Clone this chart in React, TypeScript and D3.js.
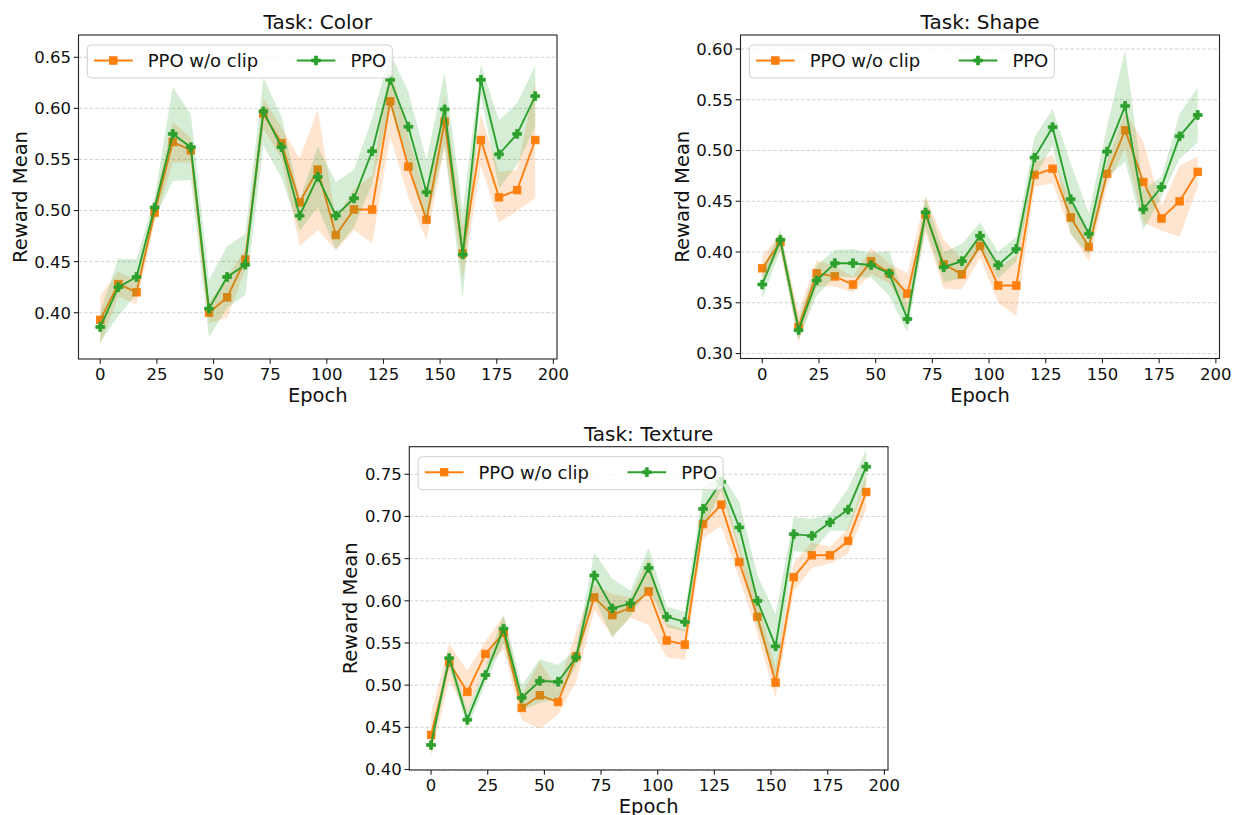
import React from 'react';
import * as d3 from 'd3';

const epochs = [0, 8, 16, 24, 32, 40, 48, 56, 64, 72, 80, 88, 96, 104, 112, 120, 128, 136, 144, 152, 160, 168, 176, 184, 192];
const xTicks = [0, 25, 50, 75, 100, 125, 150, 175, 200];

// Task: Color
const colorClipMean = [0.393, 0.428, 0.420, 0.498, 0.567, 0.559, 0.400, 0.415, 0.452, 0.595, 0.566, 0.508, 0.540, 0.476, 0.501, 0.501, 0.607, 0.543, 0.491, 0.587, 0.458, 0.569, 0.513, 0.520, 0.569];
const colorClipStd = [0.024, 0.012, 0.012, 0.010, 0.020, 0.012, 0.010, 0.020, 0.010, 0.015, 0.015, 0.043, 0.059, 0.015, 0.020, 0.033, 0.035, 0.030, 0.020, 0.025, 0.025, 0.025, 0.025, 0.020, 0.057];
const colorPpoMean = [0.386, 0.425, 0.435, 0.503, 0.575, 0.562, 0.404, 0.435, 0.447, 0.597, 0.562, 0.495, 0.533, 0.495, 0.512, 0.558, 0.628, 0.582, 0.518, 0.599, 0.457, 0.628, 0.555, 0.575, 0.612];
const colorPpoStd = [0.015, 0.028, 0.017, 0.010, 0.046, 0.032, 0.028, 0.030, 0.030, 0.033, 0.030, 0.015, 0.030, 0.033, 0.028, 0.032, 0.026, 0.034, 0.031, 0.036, 0.043, 0.015, 0.033, 0.030, 0.030];
const colorYTicks = [0.40, 0.45, 0.50, 0.55, 0.60, 0.65];

// Task: Shape
const shapeClipMean = [0.384, 0.410, 0.326, 0.379, 0.376, 0.368, 0.391, 0.379, 0.359, 0.437, 0.388, 0.378, 0.406, 0.367, 0.367, 0.476, 0.482, 0.434, 0.405, 0.477, 0.520, 0.469, 0.433, 0.450, 0.479];
const shapeClipStd = [0.012, 0.008, 0.015, 0.013, 0.010, 0.008, 0.013, 0.010, 0.020, 0.018, 0.024, 0.015, 0.012, 0.017, 0.030, 0.012, 0.014, 0.015, 0.014, 0.012, 0.018, 0.040, 0.012, 0.035, 0.015];
const shapePpoMean = [0.368, 0.412, 0.323, 0.372, 0.389, 0.389, 0.387, 0.379, 0.334, 0.439, 0.385, 0.391, 0.416, 0.387, 0.403, 0.493, 0.523, 0.452, 0.418, 0.499, 0.544, 0.442, 0.464, 0.514, 0.535];
const shapePpoStd = [0.014, 0.010, 0.010, 0.015, 0.013, 0.014, 0.012, 0.022, 0.013, 0.015, 0.015, 0.017, 0.013, 0.013, 0.012, 0.020, 0.018, 0.035, 0.020, 0.025, 0.055, 0.020, 0.010, 0.022, 0.027];
const shapeYTicks = [0.30, 0.35, 0.40, 0.45, 0.50, 0.55, 0.60];

// Task: Texture
const textureClipMean = [0.441, 0.527, 0.492, 0.537, 0.562, 0.473, 0.488, 0.480, 0.534, 0.604, 0.583, 0.592, 0.611, 0.553, 0.548, 0.691, 0.714, 0.646, 0.581, 0.503, 0.628, 0.654, 0.654, 0.671, 0.729];
const textureClipStd = [0.025, 0.022, 0.025, 0.015, 0.020, 0.015, 0.040, 0.015, 0.030, 0.015, 0.025, 0.012, 0.040, 0.020, 0.018, 0.017, 0.025, 0.020, 0.020, 0.018, 0.017, 0.015, 0.010, 0.015, 0.020];
const texturePpoMean = [0.429, 0.532, 0.459, 0.512, 0.567, 0.485, 0.505, 0.504, 0.533, 0.630, 0.591, 0.597, 0.639, 0.581, 0.575, 0.709, 0.741, 0.687, 0.600, 0.546, 0.679, 0.677, 0.693, 0.708, 0.759];
const texturePpoStd = [0.010, 0.010, 0.010, 0.010, 0.017, 0.015, 0.026, 0.020, 0.010, 0.027, 0.035, 0.015, 0.024, 0.012, 0.012, 0.025, 0.010, 0.030, 0.030, 0.038, 0.020, 0.020, 0.010, 0.025, 0.020];
const textureYTicks = [0.40, 0.45, 0.50, 0.55, 0.60, 0.65, 0.70, 0.75];

const ORANGE = '#ff7f0e';
const GREEN = '#2ca02c';
const FONT = 'DejaVu Sans, Liberation Sans, sans-serif';

const plusPath = (h) => {
  const a = h / 3;
  return `M${-a},${-h}H${a}V${-a}H${h}V${a}H${a}V${h}H${-a}V${a}H${-h}V${-a}H${-a}Z`;
};

const Marker = ({ kind, x, y, color }) => {
  if (kind === 'square') {
    return <rect x={x - 3.8} y={y - 3.8} width={7.6} height={7.6} fill={color} stroke={color} strokeWidth={0.8} />;
  }
  return <path d={plusPath(4.4)} transform={`translate(${x},${y})`} fill={color} stroke={color} strokeWidth={0.8} />;
};

const Panel = ({ title, left, top, width, height, yDomain, yTicks, clipMean, clipStd, ppoMean, ppoStd }) => {
  const x = d3.scaleLinear().domain([-9.6, 201.6]).range([left, left + width]);
  const y = d3.scaleLinear().domain(yDomain).range([top + height, top]);

  const series = [
    { name: 'PPO w/o clip', mean: clipMean, std: clipStd, color: ORANGE, marker: 'square' },
    { name: 'PPO', mean: ppoMean, std: ppoStd, color: GREEN, marker: 'plus' },
  ];

  const line = d3.line().x((d) => x(d[0])).y((d) => y(d[1]));
  const area = d3.area().x((d) => x(d[0])).y0((d) => y(d[1] - d[2])).y1((d) => y(d[1] + d[2]));

  const lx = left + 8.8;
  const ly = top + 10;

  return (
    <g fontFamily={FONT}>
      <defs>
        <clipPath id={`clip-${title}`}>
          <rect x={left} y={top} width={width} height={height} />
        </clipPath>
      </defs>
      {yTicks.map((t) => (
        <line key={`g${t}`} x1={left} x2={left + width} y1={y(t)} y2={y(t)} stroke="#c8c8c8" strokeWidth={0.8} strokeDasharray="3.5,2" />
      ))}
      <g clipPath={`url(#clip-${title})`}>
        {series.map((s) => {
          const rows = epochs.map((e, i) => [e, s.mean[i], s.std[i]]);
          return (
            <g key={s.name}>
              <path d={area(rows)} fill={s.color} fillOpacity={0.2} stroke="none" />
              <path d={line(rows)} fill="none" stroke={s.color} strokeWidth={1.9} />
              {rows.map((r) => (
                <Marker key={r[0]} kind={s.marker} x={x(r[0])} y={y(r[1])} color={s.color} />
              ))}
            </g>
          );
        })}
      </g>
      <rect x={left} y={top} width={width} height={height} fill="none" stroke="#222" strokeWidth={1.1} />
      {xTicks.map((t) => (
        <g key={`x${t}`}>
          <line x1={x(t)} x2={x(t)} y1={top + height} y2={top + height + 4.8} stroke="#222" strokeWidth={1.1} />
          <text x={x(t)} y={top + height + 21} textAnchor="middle" fontSize={16.5} fill="#111">{t}</text>
        </g>
      ))}
      {yTicks.map((t) => (
        <g key={`y${t}`}>
          <line x1={left - 4.8} x2={left} y1={y(t)} y2={y(t)} stroke="#222" strokeWidth={1.1} />
          <text x={left - 7.5} y={y(t)} dy="0.36em" textAnchor="end" fontSize={16.5} fill="#111">{t.toFixed(2)}</text>
        </g>
      ))}
      <text x={left + width / 2} y={top - 5.7} textAnchor="middle" fontSize={20} fill="#111">{title}</text>
      <text x={left + width / 2} y={top + height + 43} textAnchor="middle" fontSize={19.5} fill="#111">Epoch</text>
      <text transform={`translate(${left - 52},${top + height / 2}) rotate(-90)`} textAnchor="middle" fontSize={19.5} fill="#111">Reward Mean</text>
      <g>
        <rect x={lx} y={ly} width={305} height={33} rx={4} fill="#fff" fillOpacity={0.8} stroke="#d0d0d0" strokeWidth={1} />
        {series.map((s, i) => {
          const ox = lx + (i === 0 ? 0 : 202.7);
          const cy = ly + 15.5;
          return (
            <g key={`l${s.name}`}>
              <line x1={ox + 6.7} x2={ox + 45.4} y1={cy} y2={cy} stroke={s.color} strokeWidth={1.9} />
              <Marker kind={s.marker} x={ox + 26} y={cy} color={s.color} />
              <text x={ox + 60.4} y={cy} dy="0.36em" fontSize={18} fill="#111">{s.name}</text>
            </g>
          );
        })}
      </g>
    </g>
  );
};

export default function App() {
  return (
    <svg width={1234} height={815} style={{ position: 'absolute', left: 0, top: 0, background: '#fff' }}>
      <rect width={1234} height={815} fill="#fff" />
      <Panel title="Task: Color" left={78.5} top={35} width={478.5} height={324} yDomain={[0.3547, 0.6718]} yTicks={colorYTicks}
        clipMean={colorClipMean} clipStd={colorClipStd} ppoMean={colorPpoMean} ppoStd={colorPpoStd} />
      <Panel title="Task: Shape" left={740.5} top={35} width={479} height={323.5} yDomain={[0.2951, 0.6138]} yTicks={shapeYTicks}
        clipMean={shapeClipMean} clipStd={shapeClipStd} ppoMean={shapePpoMean} ppoStd={shapePpoStd} />
      <Panel title="Task: Texture" left={409.3} top={446.7} width={478.7} height={323.3} yDomain={[0.3994, 0.7827]} yTicks={textureYTicks}
        clipMean={textureClipMean} clipStd={textureClipStd} ppoMean={texturePpoMean} ppoStd={texturePpoStd} />
    </svg>
  );
}
